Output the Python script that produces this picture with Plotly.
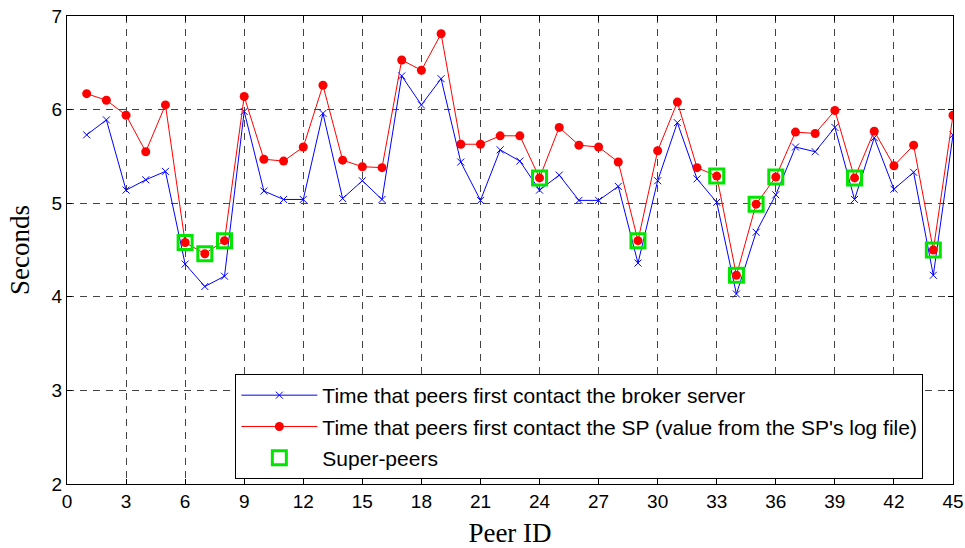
import plotly.graph_objects as go

peer_ids = list(range(1, 46))
broker_times = [5.73, 5.89, 5.14, 5.25, 5.34, 4.35, 4.11, 4.22, 5.98, 5.13,
                5.04, 5.04, 5.96, 5.05, 5.24, 5.04, 6.36, 6.05, 6.33, 5.44,
                5.03, 5.57, 5.45, 5.14, 5.30, 5.03, 5.03, 5.18, 4.36, 5.24,
                5.86, 5.26, 5.01, 4.03, 4.69, 5.09, 5.60, 5.55, 5.81, 5.04,
                5.70, 5.15, 5.33, 4.23, 5.73]
sp_times = [6.17, 6.10, 5.94, 5.55, 6.05, 4.58, 4.46, 4.60, 6.14, 5.47,
            5.45, 5.60, 6.26, 5.46, 5.39, 5.38, 6.53, 6.42, 6.81, 5.63,
            5.63, 5.72, 5.72, 5.27, 5.81, 5.62, 5.60, 5.44, 4.60, 5.56,
            6.08, 5.38, 5.29, 4.23, 4.99, 5.28, 5.76, 5.745, 5.99, 5.27,
            5.77, 5.40, 5.62, 4.50, 5.94]
super_peer_ids = [6, 7, 8, 24, 29, 33, 34, 35, 36, 40, 44]
super_peer_times = [sp_times[i - 1] for i in super_peer_ids]

x_ticks = list(range(0, 46, 3))
y_ticks = [2, 3, 4, 5, 6, 7]

fig = go.Figure()
fig.add_trace(go.Scatter(
    x=peer_ids, y=broker_times, mode="lines+markers",
    name="Time that peers first contact the broker server",
    line=dict(color="#0000ff", width=1),
    marker=dict(symbol="x-thin", size=7, line=dict(color="#0000ff", width=1)),
    legendgroup="a"))
fig.add_trace(go.Scatter(
    x=peer_ids, y=sp_times, mode="lines+markers",
    name="Time that peers first contact the SP (value from the SP's log file)",
    line=dict(color="#ff0000", width=1),
    marker=dict(symbol="circle", size=9, color="#ff0000"),
    legendgroup="b"))
fig.add_trace(go.Scatter(
    x=super_peer_ids, y=super_peer_times, mode="markers",
    name="Super-peers",
    marker=dict(symbol="square-open", size=14, color="#00e600",
                line=dict(width=3, color="#00e600")),
    legendgroup="c"))

axis_common = dict(
    showline=True, linecolor="black", linewidth=1, mirror="ticks",
    ticks="inside", ticklen=5, tickcolor="black",
    showgrid=True, gridcolor="#444444", gridwidth=1, griddash="7px,6px",
    zeroline=False, automargin=False,
    tickfont=dict(family="Liberation Sans, Arial", size=19, color="black"),
)
title_font = dict(family="Liberation Serif, Times New Roman", size=27, color="black")

fig.update_xaxes(range=[0, 45], tickvals=x_ticks, **axis_common,
                 title=dict(text="Peer ID", font=title_font, standoff=12))
fig.update_yaxes(range=[2, 7], tickvals=y_ticks, **axis_common,
                 title=dict(text="Seconds", font=title_font, standoff=14))

fig.update_layout(
    width=965, height=548,
    margin=dict(l=67, r=12, t=16, b=64),
    plot_bgcolor="white", paper_bgcolor="white",
    legend=dict(x=0.19, y=0.235, xanchor="left", yanchor="top",
                bgcolor="white", bordercolor="black", borderwidth=1,
                font=dict(family="Liberation Sans, Arial", size=21, color="black"),
                traceorder="grouped", tracegroupgap=1, itemwidth=76),
    showlegend=True,
)

fig.write_html("out.html")
